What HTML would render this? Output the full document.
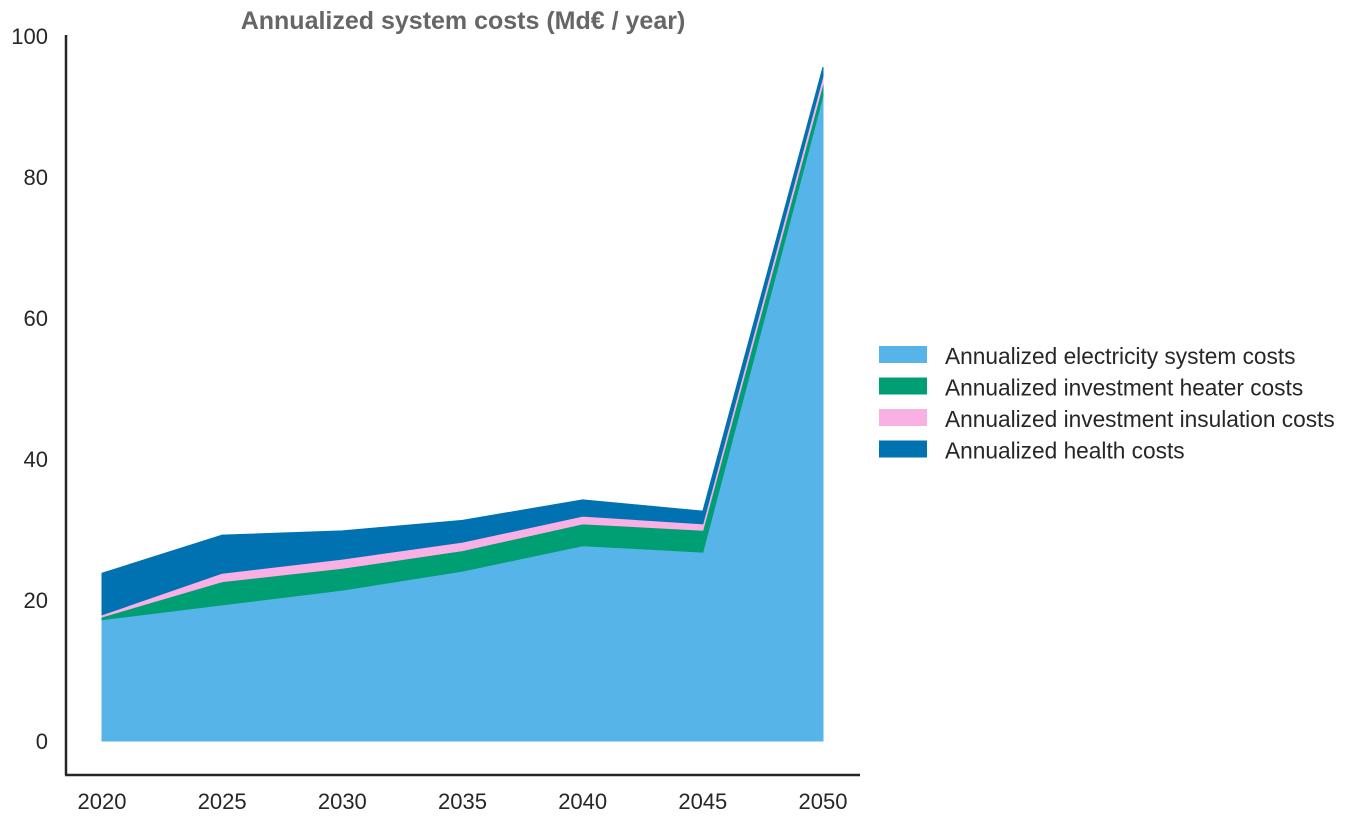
<!DOCTYPE html>
<html><head><meta charset="utf-8"><style>
body{margin:0;background:#fff;font-family:"Liberation Sans",sans-serif;}
</style></head><body>
<svg id="chart" width="1357" height="822">
<text x="463" y="29" text-anchor="middle" font-size="25" font-weight="bold" fill="#666">Annualized system costs (Md€ / year)</text>
<g id="areas"></g>
<line x1="66" y1="35" x2="66" y2="775" stroke="#262626" stroke-width="2.5"/>
<line x1="65" y1="775" x2="860" y2="775" stroke="#262626" stroke-width="2.5"/>
<g id="ticks" font-size="22" fill="#262626"></g>
<g id="legend" font-size="22.7" fill="#262626"></g>
</svg>
<script>
const years=[2020,2025,2030,2035,2040,2045,2050];
const elec=[17.2,19.3,21.4,24.1,27.7,26.8,91.5];
const heater=[0.4,3.3,3.1,2.9,3.1,3.1,1.7];
const insulation=[0.3,1.2,1.3,1.2,1.1,0.9,1.1];
const health=[5.9,5.4,4.0,3.1,2.3,1.8,1.3];
const yTicks=[0,20,40,60,80,100];
const names=["Annualized electricity system costs","Annualized investment heater costs","Annualized investment insulation costs","Annualized health costs"];
const colors=["#56b4e9","#009e73","#f9b0e4","#0072b2"];
const series=[elec,heater,insulation,health];
const xs=y=>102+(y-2020)*(823-102)/30;
const ys=v=>741-v*7.05;
const NS="http://www.w3.org/2000/svg";
const ga=document.getElementById('areas');
let base=years.map(()=>0);
series.forEach((s,i)=>{
  const top=base.map((b,j)=>b+s[j]);
  let d=years.map((y,j)=>(j?'L':'M')+xs(y)+','+ys(top[j])).join('');
  for(let j=years.length-1;j>=0;j--)d+='L'+xs(years[j])+','+ys(base[j]);
  const p=document.createElementNS(NS,'path');
  p.setAttribute('d',d+'Z');p.setAttribute('fill',colors[i]);p.setAttribute('stroke',colors[i]);p.setAttribute('stroke-width','1');
  
  
  ga.appendChild(p);base=top;
});
const gt=document.getElementById('ticks');
yTicks.forEach(v=>{const t=document.createElementNS(NS,'text');t.setAttribute('x',48);t.setAttribute('y',ys(v)+8);t.setAttribute('text-anchor','end');t.textContent=v;

gt.appendChild(t);});
years.forEach(y=>{const t=document.createElementNS(NS,'text');t.setAttribute('x',xs(y));t.setAttribute('y',809);t.setAttribute('text-anchor','middle');t.textContent=y;

gt.appendChild(t);});
const gl=document.getElementById('legend');
names.forEach((n,i)=>{const yy=356+i*31.5;
const r=document.createElementNS(NS,'rect');r.setAttribute('x',879);r.setAttribute('y',yy-10);r.setAttribute('width',48);r.setAttribute('height',17);r.setAttribute('fill',colors[i]);

gl.appendChild(r);
const t=document.createElementNS(NS,'text');t.setAttribute('x',945);t.setAttribute('y',yy+8);t.textContent=n;

gl.appendChild(t);});
</script>
</body></html>
